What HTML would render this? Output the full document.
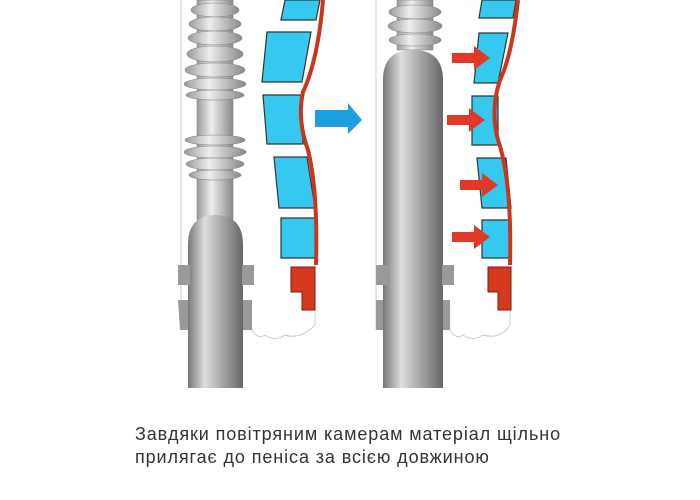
<!DOCTYPE html>
<html><head><meta charset="utf-8"><style>
body{margin:0;width:700px;height:500px;background:#fff;overflow:hidden;font-family:"Liberation Sans",sans-serif}
.t{position:absolute;left:135px;top:423px;font-size:18px;line-height:23px;color:#333;letter-spacing:0.9px;white-space:nowrap}
</style></head><body>
<svg width="700" height="500" style="position:absolute;left:0;top:0">
<defs>
<linearGradient id="g" x1="0" x2="1"><stop offset="0" stop-color="#777"/><stop offset=".3" stop-color="#ddd"/><stop offset=".6" stop-color="#aaa"/><stop offset="1" stop-color="#666"/></linearGradient>
<linearGradient id="g2" x1="0" x2="1"><stop offset="0" stop-color="#999"/><stop offset=".4" stop-color="#eee"/><stop offset="1" stop-color="#888"/></linearGradient>
</defs>
<!-- LEFT PANEL -->
<line x1="181" y1="0" x2="181" y2="330" stroke="#ccc"/>
<g fill="url(#g2)" stroke="#888" stroke-width=".6">
<rect x="197" y="0" width="36" height="220"/>
<ellipse cx="215" cy="10" rx="24" ry="7"/><ellipse cx="215" cy="24" rx="26" ry="7"/>
<ellipse cx="215" cy="38" rx="27" ry="7"/><ellipse cx="215" cy="54" rx="28" ry="8"/>
<ellipse cx="215" cy="70" rx="30" ry="7"/><ellipse cx="215" cy="84" rx="31" ry="6"/>
<ellipse cx="215" cy="95" rx="29" ry="5"/>
<ellipse cx="215" cy="140" rx="30" ry="5"/><ellipse cx="215" cy="152" rx="31" ry="6"/><ellipse cx="215" cy="164" rx="29" ry="6"/>
<ellipse cx="215" cy="175" rx="26" ry="5"/>
</g>
<path d="M188 388V245Q188 215 215 215Q243 215 243 245V388Z" fill="url(#g)"/>
<rect x="178" y="265" width="12" height="20" fill="#999"/><rect x="242" y="265" width="12" height="20" fill="#999"/>
<path d="M178 300L188 300L188 330L180 330Z" fill="#999"/><path d="M243 300L252 300L252 330L243 330Z" fill="#999"/>
<path d="M252 330Q258 340 265 335Q275 342 285 335Q300 340 315 325V290" fill="none" stroke="#ccc"/>
<g fill="#36c9ef" stroke="#333" stroke-width="1.2">
<path d="M285 0H320L316 20H281Z"/><path d="M267 32H311L302 82H262Z"/><path d="M263 95H301L303 144H267Z"/>
<path d="M274 157H307L315 208H279Z"/><path d="M281 218H316V258H281Z"/>
</g>
<path d="M323 0Q318 60 303 92Q297 120 308 150Q318 190 316 265" fill="none" stroke="#c8361c" stroke-width="4"/>
<path d="M291 267H315V310H302V292H291Z" fill="#d63a1e" stroke="#7a1c0c" stroke-width="1"/>
<path d="M315 110H348V103L362 120L348 134V127H315Z" fill="#1e9fe0"/>
<!-- RIGHT PANEL -->
<line x1="376" y1="0" x2="376" y2="330" stroke="#ccc"/>
<g fill="url(#g2)" stroke="#888" stroke-width=".6">
<rect x="397" y="0" width="36" height="50"/>
<ellipse cx="415" cy="12" rx="26" ry="7"/><ellipse cx="415" cy="26" rx="27" ry="7"/><ellipse cx="415" cy="40" rx="26" ry="6"/>
</g>
<path d="M383 388V80Q383 50 413 50Q443 50 443 80V388Z" fill="url(#g)"/>
<rect x="376" y="265" width="12" height="20" fill="#999"/><rect x="442" y="265" width="12" height="20" fill="#999"/>
<path d="M376 300L383 300L383 330L376 330Z" fill="#999"/><path d="M443 300L450 300L450 330L443 330Z" fill="#999"/>
<path d="M450 330Q456 340 463 335Q473 342 483 335Q500 340 510 325V290" fill="none" stroke="#ccc"/>
<g fill="#36c9ef" stroke="#333" stroke-width="1.2">
<path d="M482 0H516L513 18H479Z"/><path d="M479 33H508L498 83H474Z"/><path d="M472 96H498V145H472Z"/>
<path d="M477 158H506L511 208H482Z"/><path d="M482 220H511V258H482Z"/>
</g>
<path d="M518 0Q512 55 500 80Q490 110 498 140Q512 180 510 265" fill="none" stroke="#c8361c" stroke-width="4"/>
<path d="M488 267H511V310H498V292H488Z" fill="#d63a1e" stroke="#7a1c0c" stroke-width="1"/>
<g fill="#e03a26">
<path d="M452 53H474V46L490 58L474 70V63H452Z"/>
<path d="M447 115H469V108L485 120L469 132V125H447Z"/>
<path d="M460 180H482V173L498 185L482 197V190H460Z"/>
<path d="M452 232H474V225L490 237L474 249V242H452Z"/>
</g>
</svg>
<div class="t">Завдяки повітряним камерам матеріал щільно<br>прилягає до пеніса за всією довжиною</div>
</body></html>
